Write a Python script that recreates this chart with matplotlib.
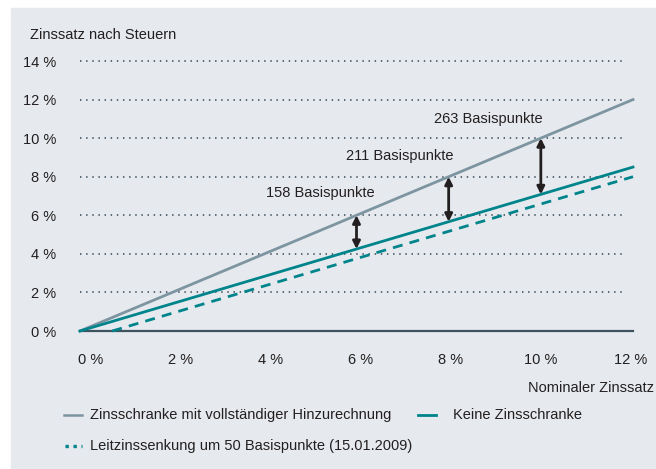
import numpy as np
import matplotlib.pyplot as plt
from matplotlib.patches import Rectangle
from matplotlib.lines import Line2D

plt.rcParams["font.family"] = ["Liberation Sans", "DejaVu Sans"]

# data
nominal = [0, 12]
zinsschranke = [0, 12]          # Zinsschranke mit vollständiger Hinzurechnung
keine = [0, 8.5]                # Keine Zinsschranke
leitzins_x = [0.7, 12]
leitzins_y = [0, 8.0]           # Leitzinssenkung um 50 Basispunkte
arrow_x = [6, 8, 10]
bp_labels = ["158 Basispunkte", "211 Basispunkte", "263 Basispunkte"]
bp_label_pos = [(4.04, 7.15), (5.77, 9.07), (7.68, 10.99)]
yticks = [0, 2, 4, 6, 8, 10, 12, 14]
xticks = [0, 2, 4, 6, 8, 10, 12]

W, H = 656, 469
TXT = "#231f20"
GRAY = "#7d94a1"
TEAL = "#00848b"
PANEL = "#e6eaee"

fig = plt.figure(figsize=(W / 100, H / 100), dpi=100, facecolor="white")


def fx(px):
    return px / W


def fy(py):
    return 1 - py / H


# grey panel
panel = Rectangle((fx(11), 0), fx(W - 11), 1 - 8 / H,
                  transform=fig.transFigure, color=PANEL, zorder=-10)
fig.add_artist(panel)

# axes placed so that x 0..12 -> 80..633 px and y 0..14 -> 331..61 px
xlim = (-0.3, 12.3)
ylim = (-0.5, 14.5)
xpx = (633 - 80) / 12
ypx = (331 - 61) / 14
left = 80 + xlim[0] * xpx
right = 80 + xlim[1] * xpx
bottom = 331 - ylim[0] * ypx
top = 331 - ylim[1] * ypx
ax = fig.add_axes([fx(left), fy(bottom), fx(right - left), (bottom - top) / H])
ax.set_zorder(1)
ax.set_xlim(*xlim)
ax.set_ylim(*ylim)
ax.patch.set_alpha(0)
for s in ax.spines.values():
    s.set_visible(False)

# dotted grid
for v in yticks[1:]:
    ax.plot([0, 11.85], [v, v], color="#4d5d6b", lw=1.3,
            linestyle=(0, (0.8, 2.6)), zorder=1)
ax.plot([0, 12], [0, 0], color="#3d5360", lw=1.6, zorder=1)

# lines
ax.plot(nominal, zinsschranke, color=GRAY, lw=2.0, zorder=3)
ax.plot(nominal, keine, color=TEAL, lw=2.0, zorder=3)
ax.plot(leitzins_x, leitzins_y, color=TEAL, lw=2.0, linestyle=(0, (3.6, 2.6)), zorder=3)

# arrows between the two solid lines
for x in arrow_x:
    y_top = np.interp(x, nominal, zinsschranke)
    y_bot = np.interp(x, nominal, keine)
    ax.annotate("", xy=(x, y_top), xytext=(x, y_bot),
                arrowprops=dict(arrowstyle="<|-|>", color=TXT, lw=2,
                                mutation_scale=11, shrinkA=0, shrinkB=0),
                zorder=4)

for lab, (x, y) in zip(bp_labels, bp_label_pos):
    ax.text(x, y, lab, ha="left", va="center", fontsize=10.5, color=TXT)

# ticks
ax.set_yticks(yticks)
ax.set_yticklabels([f"{v} %" for v in yticks])
ax.set_xticks([0.24 + 0.975 * v for v in xticks])
ax.set_xticklabels([f"{v} %" for v in xticks])
ax.tick_params(axis="y", length=0, pad=7, labelsize=10.5, labelcolor=TXT)
ax.tick_params(axis="x", length=0, pad=9, labelsize=10.5, labelcolor=TXT)

# axis titles
fig.text(fx(30), fy(35), "Zinssatz nach Steuern", ha="left", va="center",
         fontsize=10.5, color=TXT)
fig.text(fx(654), fy(388), "Nominaler Zinssatz", ha="right", va="center",
         fontsize=10.5, color=TXT)

# legend
fig.add_artist(Line2D([fx(64), fx(82)], [fy(415), fy(415)], color=GRAY, lw=1.8))
fig.text(fx(90), fy(415), "Zinsschranke mit vollständiger Hinzurechnung",
         ha="left", va="center", fontsize=10.5, color=TXT)
fig.add_artist(Line2D([fx(418), fx(436)], [fy(415), fy(415)], color=TEAL, lw=2.0))
fig.text(fx(453), fy(415), "Keine Zinsschranke", ha="left", va="center",
         fontsize=10.5, color=TXT)
fig.add_artist(Line2D([fx(65), fx(82)], [fy(446), fy(446)], color=TEAL, lw=2.4,
                      linestyle=(0, (1, 1.4))))
fig.text(fx(90), fy(446), "Leitzinssenkung um 50 Basispunkte (15.01.2009)",
         ha="left", va="center", fontsize=10.5, color=TXT)

fig.savefig("out.png", dpi=100, facecolor="white")
